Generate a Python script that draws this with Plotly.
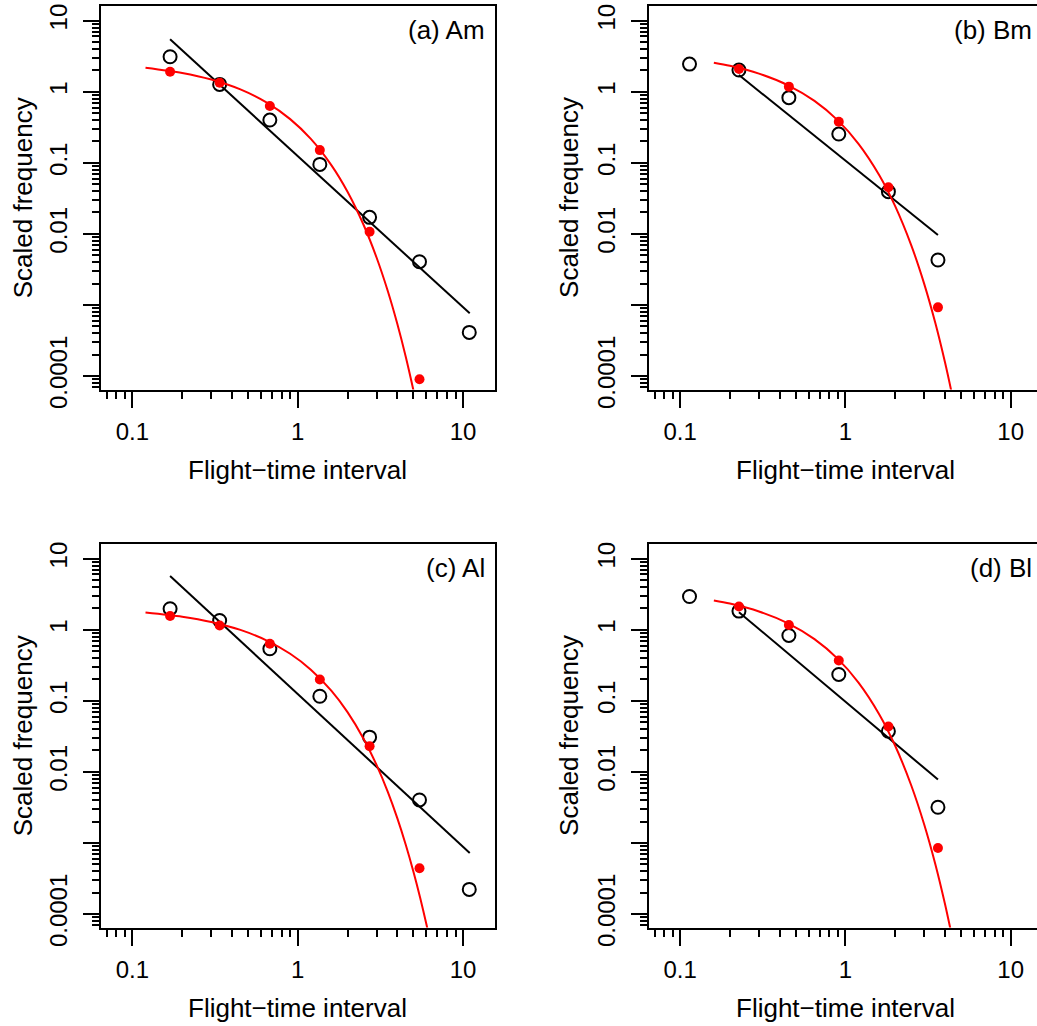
import plotly.graph_objects as go

# ---------------- data ----------------
# Panel (a) Am
xa = [0.169, 0.337, 0.678, 1.36, 2.72, 5.45, 10.9]
obs_a = [3.11, 1.27, 0.40, 0.095, 0.0171, 0.00406, 0.000411]
fit_a = [1.91, 1.34, 0.63, 0.151, 0.0107, 0.0000899]
curve_a_x = [0.12, 0.2, 0.3, 0.45, 0.65, 0.9, 1.2, 1.6, 2.0, 2.5, 3.0, 3.5, 4.0, 4.5, 5.0, 5.2]
curve_a_y = [2.185, 1.842, 1.487, 1.079, 0.7033, 0.4121, 0.2169, 0.09218, 0.03917, 0.01344,
             0.004613, 0.001583, 0.000543, 0.0001865, 0.000064, 0.0000417]
line_a_x = [0.169, 10.97]
line_a_y = [5.47, 0.000762]

# Panel (b) Bm
xb = [0.114, 0.227, 0.455, 0.912, 1.82, 3.63]
obs_b = [2.45, 2.02, 0.826, 0.254, 0.0393, 0.00429]
fit_b_x = [0.227, 0.455, 0.912, 1.82, 3.63]
fit_b = [2.09, 1.18, 0.379, 0.0452, 0.000925]
curve_b_x = [0.16, 0.2, 0.3, 0.45, 0.65, 0.9, 1.2, 1.6, 2.0, 2.5, 3.0, 3.5, 4.0, 4.4, 4.6]
curve_b_y = [2.564, 2.318, 1.800, 1.233, 0.7437, 0.3956, 0.1854, 0.06751, 0.02458, 0.00695,
             0.001966, 0.000556, 0.0001572, 0.0000572, 0.0000345]
line_b_x = [0.227, 3.63]
line_b_y = [1.72, 0.00964]

# Panel (c) Al
xc = [0.169, 0.337, 0.678, 1.36, 2.72, 5.45, 10.9]
obs_c = [1.98, 1.35, 0.540, 0.116, 0.0308, 0.00403, 0.000222]
fit_c = [1.56, 1.15, 0.635, 0.200, 0.0230, 0.000440]
curve_c_x = [0.12, 0.2, 0.3, 0.45, 0.65, 0.9, 1.2, 1.6, 2.0, 2.5, 3.0, 3.5, 4.0, 4.5, 5.0, 5.5, 6.0, 6.2]
curve_c_y = [1.754, 1.529, 1.287, 0.995, 0.7055, 0.4591, 0.2742, 0.1379, 0.06934, 0.02936,
             0.01243, 0.005267, 0.002231, 0.000944, 0.0004, 0.0001694, 0.0000717, 0.0000509]
line_c_x = [0.169, 10.97]
line_c_y = [5.70, 0.000723]

# Panel (d) Bl
xd = [0.114, 0.227, 0.455, 0.912, 1.82, 3.63]
obs_d = [2.94, 1.83, 0.832, 0.235, 0.0374, 0.00318]
fit_d_x = [0.227, 0.455, 0.912, 1.82, 3.63]
fit_d = [2.13, 1.17, 0.370, 0.0435, 0.000851]
curve_d_x = [0.16, 0.2, 0.3, 0.45, 0.65, 0.9, 1.2, 1.6, 2.0, 2.5, 3.0, 3.5, 4.0, 4.4]
curve_d_y = [2.588, 2.337, 1.809, 1.232, 0.7386, 0.3895, 0.1807, 0.06492, 0.02331, 0.006484,
             0.001803, 0.000502, 0.0001395, 0.0000501]
line_d_x = [0.227, 3.63]
line_d_y = [1.77, 0.0078]

panel_labels = ["(a) Am", "(b) Bm", "(c) Al", "(d) Bl"]
x_title = "Flight\u2212time interval"
y_title = "Scaled frequency"

x_major = [0.1, 1, 10]
x_major_text = ["0.1", "1", "10"]
y_major = [10, 1, 0.1, 0.01, 0.001, 0.0001]
y_major_text = ["10", "1", "0.1", "0.01", "", "0.0001"]
x_minor = [m * 10.0 ** e for e in (-2, -1, 0) for m in range(2, 10)]
y_minor = [m * 10.0 ** e for e in (-5, -4, -3, -2, -1, 0) for m in range(2, 10)]

# ---------------- layout geometry ----------------
W, H = 1037, 1026
FONT = "Liberation Sans, Arial, sans-serif"
left_px = (101.0, 494.5)
right_px = (648.7, 1037.0)
top_px = (6.0, 389.5)
bot_px = (544.0, 927.5)

def xdom(p):
    return [p[0] / W, p[1] / W]

def ydom(p):
    return [1 - p[1] / H, 1 - p[0] / H]

fig = go.Figure()

panels = [
    ("x", "y", xa, obs_a, xa[:6], fit_a, curve_a_x, curve_a_y, line_a_x, line_a_y),
    ("x2", "y2", xb, obs_b, fit_b_x, fit_b, curve_b_x, curve_b_y, line_b_x, line_b_y),
    ("x3", "y3", xc, obs_c, xc[:6], fit_c, curve_c_x, curve_c_y, line_c_x, line_c_y),
    ("x4", "y4", xd, obs_d, fit_d_x, fit_d, curve_d_x, curve_d_y, line_d_x, line_d_y),
]

for xr, yr, ox, oy, fx, fy, cx, cy, lx, ly in panels:
    fig.add_trace(go.Scatter(x=ox, y=oy, mode="markers", xaxis=xr, yaxis=yr,
                             marker=dict(symbol="circle-open", size=13, color="black",
                                         line=dict(width=2, color="black")),
                             showlegend=False, hoverinfo="skip", cliponaxis=False))
    fig.add_trace(go.Scatter(x=lx, y=ly, mode="lines", xaxis=xr, yaxis=yr,
                             line=dict(color="black", width=2),
                             showlegend=False, hoverinfo="skip"))
    fig.add_trace(go.Scatter(x=cx, y=cy, mode="lines", xaxis=xr, yaxis=yr,
                             line=dict(color="#FF0000", width=2, shape="spline", smoothing=0.8),
                             showlegend=False, hoverinfo="skip"))
    fig.add_trace(go.Scatter(x=fx, y=fy, mode="markers", xaxis=xr, yaxis=yr,
                             marker=dict(symbol="circle", size=10, color="#FF0000",
                                         line=dict(width=0)),
                             showlegend=False, hoverinfo="skip", cliponaxis=False))

def xaxis_cfg(dom, rng, anchor):
    return dict(type="log", domain=xdom(dom), range=rng, anchor=anchor, automargin=False,
                showgrid=False, zeroline=False, showline=True, linecolor="black",
                linewidth=2, mirror=True, ticks="outside", ticklen=16, tickwidth=2,
                tickcolor="black", tickmode="array", tickvals=x_major, ticktext=x_major_text,
                tickfont=dict(family=FONT, size=24, color="black"), ticklabelstandoff=4,
                minor=dict(tickmode="array", tickvals=x_minor, ticks="outside", ticklen=7,
                           tickwidth=2, tickcolor="black", showgrid=False))

def yaxis_cfg(dom, anchor, mirror):
    return dict(type="log", domain=ydom(dom), range=[-4.19, 1.207], anchor=anchor,
                automargin=False,
                showgrid=False, zeroline=False, showline=True, linecolor="black",
                linewidth=2, mirror=mirror, ticks="outside", ticklen=16, tickwidth=2,
                tickcolor="black", tickmode="array", tickvals=y_major, ticktext=y_major_text,
                tickangle=-90, tickfont=dict(family=FONT, size=24, color="black"),
                ticklabelstandoff=6,
                minor=dict(tickmode="array", tickvals=y_minor, ticks="outside", ticklen=7,
                           tickwidth=2, tickcolor="black", showgrid=False))

rng_left = [-1.19, 1.19]
rng_right = [-1.19, -1.19 + (right_px[1] - right_px[0]) / 165.3]

fig.update_layout(
    width=W, height=H, margin=dict(l=0, r=0, t=0, b=0, pad=0), autosize=False,
    paper_bgcolor="white", plot_bgcolor="white", showlegend=False,
    xaxis=xaxis_cfg(left_px, rng_left, "y"),
    yaxis=yaxis_cfg(top_px, "x", True),
    xaxis2=xaxis_cfg(right_px, rng_right, "y2"),
    yaxis2=yaxis_cfg(top_px, "x2", False),
    xaxis3=xaxis_cfg(left_px, rng_left, "y3"),
    yaxis3=yaxis_cfg(bot_px, "x3", True),
    xaxis4=xaxis_cfg(right_px, rng_right, "y4"),
    yaxis4=yaxis_cfg(bot_px, "x4", False),
)

annotations = []
title_font = dict(family=FONT, size=26, color="black")
for cx_px, cy_px in [(297.8, 470.0), (845.5, 470.0), (297.8, 1007.5), (845.5, 1007.5)]:
    annotations.append(dict(text=x_title, xref="paper", yref="paper", x=cx_px / W,
                            y=1 - cy_px / H, xanchor="center", yanchor="middle",
                            showarrow=False, font=title_font))
for cx_px, cy_px in [(22.5, 197.75), (569.2, 197.75), (22.5, 735.75), (569.2, 735.75)]:
    annotations.append(dict(text=y_title, xref="paper", yref="paper", x=cx_px / W,
                            y=1 - cy_px / H, xanchor="center", yanchor="middle",
                            textangle=-90, showarrow=False, font=title_font))
for lab, (rx, cy_px) in zip(panel_labels, [(486.7, 30.0), (1034.0, 30.0), (486.7, 568.0), (1034.0, 568.0)]):
    annotations.append(dict(text=lab, xref="paper", yref="paper", x=rx / W,
                            y=1 - cy_px / H, xanchor="right", yanchor="middle",
                            showarrow=False, font=title_font))
fig.update_layout(annotations=annotations)

fig.write_html("out.html", config={"displayModeBar": False},
               post_script="document.body.style.margin='0';document.documentElement.style.overflow='hidden';document.body.style.overflow='hidden';")
